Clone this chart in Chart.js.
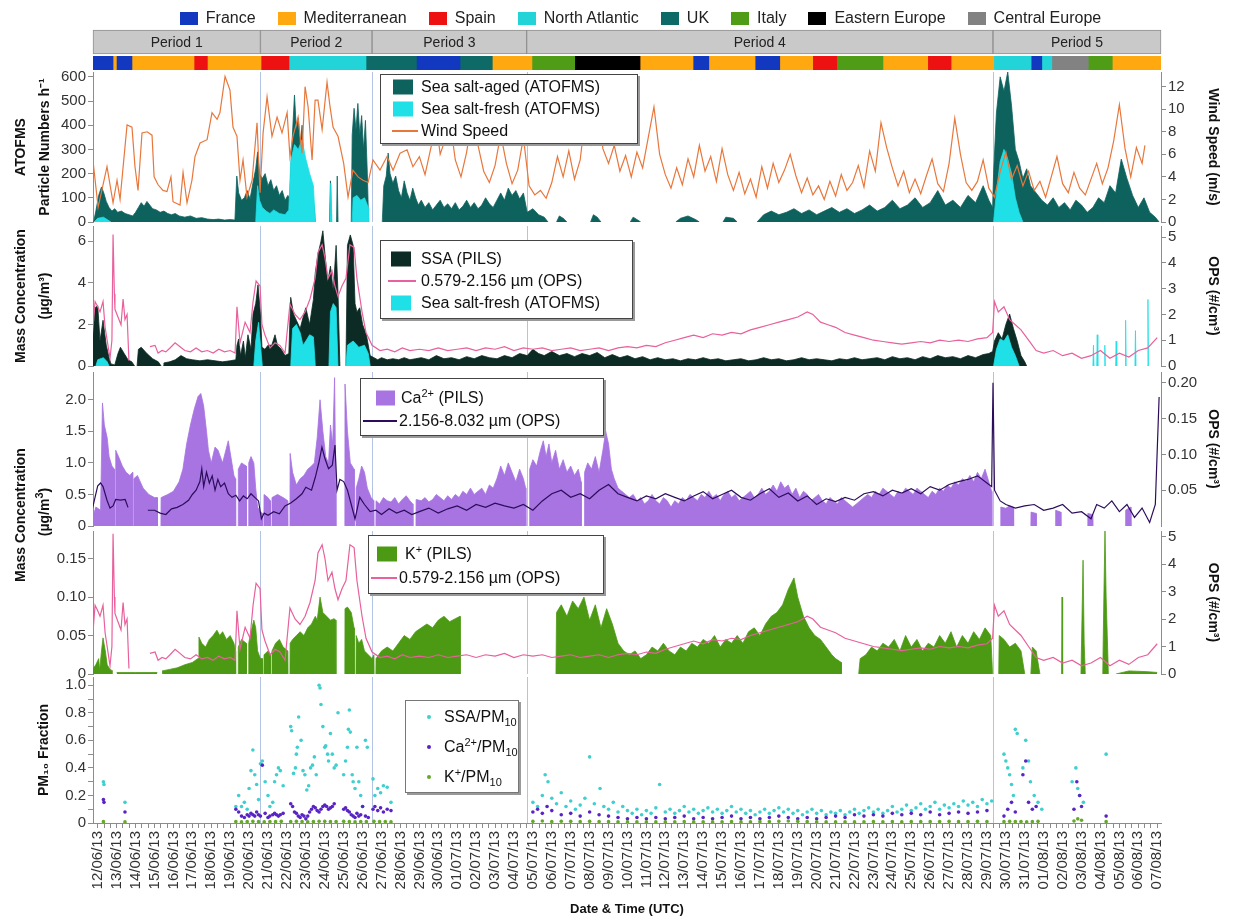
<!doctype html>
<html>
<head>
<meta charset="utf-8">
<title>Sea salt, Ca and K time series</title>
<script src="https://cdn.jsdelivr.net/npm/chart.js@4.4.1/dist/chart.umd.min.js"></script>
<style>
  body { margin: 0; background: #fff; font-family: "Liberation Sans", Arial, sans-serif; }
  #wrap { position: relative; width: 1237px; height: 921px; overflow: hidden; background: #fff; }
  canvas { position: absolute; left: 0; top: 0; }
  #originLegend { position: absolute; left: 22px; top: 9px; width: 1237px; display: flex; justify-content: center; font-size: 16px; color: #222; line-height: 18px; }
  #originLegend .it { display: flex; align-items: center; margin: 0 11px; white-space: nowrap; }
  #originLegend .bx { width: 18px; height: 13px; margin-right: 8px; }
  .lg { position: absolute; background: #fff; border: 1px solid #444; box-shadow: 2px 2px 0 #999; font-size: 16px; color: #111; }
  .lg .t { position: absolute; white-space: nowrap; line-height: 18px; transform: translateY(-50%); }
  .lg .sq { position: absolute; transform: translateY(-50%); }
  .lg .ln { position: absolute; height: 2px; transform: translateY(-50%); }
  .lg .dot { position: absolute; width: 4px; height: 4px; border-radius: 2px; transform: translate(-50%, -50%); }
  sup, sub { font-size: 11px; line-height: 0; }
  .vt { position: absolute; transform: translate(-50%, -50%) rotate(-90deg); white-space: nowrap; font-weight: bold; font-size: 14px; color: #111; }
</style>
</head>
<body>
<div id="wrap">
  <canvas id="periods" width="1237" height="921"></canvas>
  <canvas id="strip" width="1237" height="921"></canvas>
  <canvas id="p1" width="1237" height="921"></canvas>
  <canvas id="p2" width="1237" height="921"></canvas>
  <canvas id="p3" width="1237" height="921"></canvas>
  <canvas id="p4" width="1237" height="921"></canvas>
  <canvas id="p5" width="1237" height="921"></canvas>

  <div id="originLegend"></div>

  <div class="vt" style="left:20px; top:515px;">Mass Concentration</div>
  <div class="vt" style="left:44px; top:512px;">(µg/m<sup>3</sup>)</div>

  <div class="lg" style="left:380px; top:74px; width:256px; height:68px;">
    <div class="sq" style="left:12px; top:12px; width:20px; height:15px; background:#0e625e;"></div>
    <div class="t" style="left:40px; top:12px;">Sea salt-aged (ATOFMS)</div>
    <div class="sq" style="left:12px; top:34px; width:20px; height:15px; background:#1fe0e6;"></div>
    <div class="t" style="left:40px; top:34px;">Sea salt-fresh (ATOFMS)</div>
    <div class="ln" style="left:11px; top:56px; width:26px; background:#e8773c;"></div>
    <div class="t" style="left:40px; top:56px;">Wind Speed</div>
  </div>

  <div class="lg" style="left:380px; top:240px; width:251px; height:77px;">
    <div class="sq" style="left:10px; top:18px; width:20px; height:15px; background:#0c2b24;"></div>
    <div class="t" style="left:40px; top:18px;">SSA (PILS)</div>
    <div class="ln" style="left:7px; top:40px; width:28px; background:#e8609c;"></div>
    <div class="t" style="left:40px; top:40px;">0.579-2.156 µm (OPS)</div>
    <div class="sq" style="left:10px; top:62px; width:20px; height:15px; background:#1fe0e6;"></div>
    <div class="t" style="left:40px; top:62px;">Sea salt-fresh (ATOFMS)</div>
  </div>

  <div class="lg" style="left:360px; top:378px; width:242px; height:56px;">
    <div class="sq" style="left:15px; top:19px; width:19px; height:15px; background:#a774e2;"></div>
    <div class="t" style="left:40px; top:19px;">Ca<sup>2+</sup> (PILS)</div>
    <div class="ln" style="left:2px; top:42px; width:34px; background:#2c0d5c;"></div>
    <div class="t" style="left:38px; top:42px;">2.156-8.032 µm (OPS)</div>
  </div>

  <div class="lg" style="left:368px; top:535px; width:234px; height:57px;">
    <div class="sq" style="left:8px; top:18px; width:20px; height:15px; background:#4c9a14;"></div>
    <div class="t" style="left:36px; top:18px;">K<sup>+</sup> (PILS)</div>
    <div class="ln" style="left:2px; top:42px; width:26px; background:#e8609c;"></div>
    <div class="t" style="left:30px; top:42px;">0.579-2.156 µm (OPS)</div>
  </div>

  <div class="lg" style="left:405px; top:700px; width:112px; height:91px; border-color:#777;">
    <div class="dot" style="left:23px; top:16px; background:#3fcfcf;"></div>
    <div class="t" style="left:38px; top:16px;">SSA/PM<sub>10</sub></div>
    <div class="dot" style="left:23px; top:46px; background:#5a24c4;"></div>
    <div class="t" style="left:38px; top:46px;">Ca<sup>2+</sup>/PM<sub>10</sub></div>
    <div class="dot" style="left:23px; top:76px; background:#66a82a;"></div>
    <div class="t" style="left:38px; top:76px;">K<sup>+</sup>/PM<sub>10</sub></div>
  </div>
</div>

<script>
// time is in days after 12/06/13 00:00 (UTC)
var dateLabels = ['12/06/13','13/06/13','14/06/13','15/06/13','16/06/13','17/06/13','18/06/13','19/06/13','20/06/13','21/06/13',
  '22/06/13','23/06/13','24/06/13','25/06/13','26/06/13','27/06/13','28/06/13','29/06/13','30/06/13','01/07/13',
  '02/07/13','03/07/13','04/07/13','05/07/13','06/07/13','07/07/13','08/07/13','09/07/13','10/07/13','11/07/13',
  '12/07/13','13/07/13','14/07/13','15/07/13','16/07/13','17/07/13','18/07/13','19/07/13','20/07/13','21/07/13',
  '22/07/13','23/07/13','24/07/13','25/07/13','26/07/13','27/07/13','28/07/13','29/07/13','30/07/13','31/07/13',
  '01/08/13','02/08/13','03/08/13','04/08/13','05/08/13','06/08/13','07/08/13'];

var periodNames = ['Period 1', 'Period 2', 'Period 3', 'Period 4', 'Period 5'];
var periodSpans = [[-0.25, 8.6], [8.6, 14.5], [14.5, 22.67], [22.67, 47.32], [47.32, 56.2]];

// air mass origin, [start, end] in days
var franceSpans = [[-0.25, 0.81], [1.02, 1.81], [16.88, 19.15], [31.5, 32.3], [34.78, 36.05], [49.37, 49.9]];
var medSpans = [[0.81, 1.02], [1.81, 5.09], [5.83, 8.63], [20.89, 22.95], [28.7, 31.5], [32.3, 34.78], [36.05, 37.79], [41.54, 43.87], [45.14, 47.36], [53.66, 56.2]];
var spainSpans = [[5.09, 5.83], [8.63, 10.11], [37.79, 39.06], [43.87, 45.14]];
var atlanticSpans = [[10.11, 14.18], [47.36, 49.37], [49.9, 50.43]];
var ukSpans = [[14.18, 16.88], [19.15, 20.89]];
var italySpans = [[22.95, 25.21], [39.06, 41.54], [52.39, 53.66]];
var easternSpans = [[25.21, 28.7]];
var centralSpans = [[50.43, 52.39]];

// ATOFMS particle numbers per hour
var agedCounts = [[-0.22,0],[-0.1,45],[0.05,110],[0.2,145],[0.32,120],[0.45,85],[0.6,60],[0.75,45],[0.9,55],[1.05,40],[1.25,45],[1.45,35],[1.65,30],[1.85,25],[2.0,40],[2.15,60],[2.3,80],[2.45,65],[2.6,85],[2.75,70],[2.9,55],[3.1,50],[3.3,40],[3.5,45],[3.7,35],[3.9,30],[4.1,35],[4.3,25],[4.6,20],[4.9,25],[5.2,15],[5.5,18],[5.8,12],[6.1,10],[6.4,12],[6.7,8],[7.0,10],[7.25,8],[7.35,190],[7.45,120],[7.6,90],[7.75,100],[7.9,130],[8.05,95],[8.2,160],[8.35,220],[8.45,290],[8.55,200],[8.7,180],[8.85,200],[9.0,150],[9.15,175],[9.3,130],[9.45,150],[9.6,110],[9.75,130],[9.9,90],[10.05,110],[10.15,100],[10.25,300],[10.4,525],[10.5,380],[10.6,430],[10.7,300],[10.8,400],[10.9,250],[11.05,200],[11.2,140],[11.35,100],[11.45,60],[11.5,0],[11.52,null],
  [12.23,null],[12.25,0],[12.3,170],[12.36,0],[12.38,null],[12.6,null],[12.62,0],[12.66,190],[12.7,0],[12.72,null],
  [13.38,null],[13.4,0],[13.45,360],[13.55,470],[13.65,380],[13.75,490],[13.85,360],[13.95,440],[14.05,300],[14.15,420],[14.25,200],[14.32,0],[14.34,null],
  [15.02,null],[15.04,0],[15.12,150],[15.25,190],[15.35,285],[15.45,200],[15.6,160],[15.75,190],[15.9,130],[16.05,100],[16.2,170],[16.35,120],[16.5,90],[16.65,140],[16.8,100],[16.95,70],[17.1,90],[17.3,60],[17.5,80],[17.7,50],[17.9,70],[18.1,90],[18.3,60],[18.5,75],[18.7,55],[18.9,80],[19.1,50],[19.3,65],[19.5,90],[19.7,60],[19.9,80],[20.1,55],[20.3,70],[20.5,100],[20.7,75],[20.9,60],[21.1,90],[21.3,120],[21.5,90],[21.7,140],[21.9,110],[22.1,130],[22.3,95],[22.5,120],[22.7,40],[23.0,55],[23.3,30],[23.6,20],[23.8,0],[23.82,null],
  [24.22,null],[24.25,0],[24.4,25],[24.6,15],[24.8,0],[24.82,null],[26.02,null],[26.05,0],[26.2,30],[26.4,20],[26.6,0],[26.62,null],[28.12,null],[28.15,0],[28.3,20],[28.5,10],[28.7,0],[28.72,null],
  [30.52,null],[30.55,0],[30.8,15],[31.2,25],[31.6,10],[31.8,0],[31.82,null],[33.02,null],[33.05,0],[33.2,20],[33.6,15],[33.8,0],[33.82,null],
  [34.82,null],[34.85,0],[35.2,30],[35.6,45],[36.0,30],[36.4,40],[36.8,55],[37.2,35],[37.6,50],[38.0,30],[38.4,45],[38.8,60],[39.2,40],[39.6,55],[40.0,35],[40.4,50],[40.8,70],[41.2,45],[41.6,60],[42.0,90],[42.4,55],[42.8,70],[43.2,100],[43.6,60],[44.0,80],[44.4,130],[44.8,70],[45.2,90],[45.6,60],[46.0,110],[46.4,80],[46.8,150],[47.1,90],[47.3,60],
  [47.35,200],[47.5,450],[47.7,600],[47.9,540],[48.1,620],[48.3,480],[48.5,300],[48.7,250],[48.9,180],[49.1,220],[49.3,150],[49.6,120],[49.9,90],[50.2,70],[50.5,100],[50.8,60],[51.1,80],[51.4,50],[51.7,90],[52.0,70],[52.3,40],[52.6,60],[52.9,100],[53.2,80],[53.5,150],[53.8,120],[54.1,260],[54.4,180],[54.7,110],[55.0,60],[55.3,100],[55.6,40],[55.9,20],[56.1,0]];

var freshCounts = [[-0.2,0],[0.0,15],[0.3,20],[0.5,10],[0.7,0],[0.72,null],
  [8.33,null],[8.35,0],[8.45,150],[8.55,90],[8.7,60],[8.9,45],[9.1,35],[9.3,50],[9.6,35],[9.9,30],[10.1,50],[10.2,250],[10.4,320],[10.6,300],[10.8,340],[11.0,260],[11.2,200],[11.4,150],[11.5,0],[11.52,null],
  [12.25,null],[12.27,0],[12.32,160],[12.38,0],[12.4,null],
  [13.43,null],[13.45,0],[13.5,100],[13.7,110],[13.9,90],[14.1,100],[14.3,60],[14.32,0],[14.34,null],
  [47.33,null],[47.35,0],[47.5,120],[47.7,250],[47.9,300],[48.1,260],[48.3,200],[48.5,100],[48.7,40],[48.9,0]];

var windSpeed = [[-0.3,6.2],[0.02,1.3],[0.49,4.9],[0.81,1.7],[1.02,3.7],[1.18,2.0],[1.55,8.6],[1.81,8.4],[1.97,4.9],[2.13,2.8],[2.34,7.9],[2.61,8.0],[2.87,7.7],[2.98,4.0],[3.19,3.3],[3.45,2.8],[3.66,2.7],[3.87,4.0],[3.98,1.8],[4.35,1.5],[4.51,4.4],[4.72,1.7],[4.98,3.7],[5.14,5.8],[5.41,7.0],[5.78,7.3],[6.04,9.7],[6.31,9.1],[6.46,9.7],[6.73,12.9],[6.99,11.7],[7.15,8.4],[7.36,7.6],[7.52,3.7],[7.68,5.5],[7.89,2.2],[8.16,3.7],[8.42,8.8],[8.58,2.6],[8.74,7.9],[8.95,11.1],[9.21,7.6],[9.48,9.3],[9.74,7.9],[10.01,9.7],[10.16,5.8],[10.32,7.6],[10.59,9.3],[10.8,6.1],[10.96,12.0],[11.12,10.2],[11.33,5.5],[11.49,10.8],[11.64,10.8],[11.86,8.2],[12.12,12.4],[12.28,10.2],[12.44,8.4],[12.7,7.6],[13.0,5.2],[13.23,2.2],[13.49,4.6],[13.76,4.0],[14.02,3.7],[14.29,3.5],[14.55,5.5],[14.92,4.6],[15.29,5.8],[15.61,4.6],[15.98,6.1],[16.35,6.4],[16.66,4.9],
  [17.0,5.8],[17.3,4.2],[17.6,6.5],[17.9,8.8],[18.1,6.0],[18.4,7.5],[18.6,9.2],[18.9,5.5],[19.2,4.0],[19.5,6.2],[19.8,9.4],[20.1,6.8],[20.4,4.5],[20.7,3.5],[21.0,5.0],[21.3,7.8],[21.6,5.2],[21.9,3.4],[22.2,4.6],[22.5,7.5],[22.8,3.2],[23.1,2.4],[23.4,2.8],[23.7,2.1],[24.0,3.5],[24.3,5.8],[24.6,4.0],[24.9,6.3],[25.2,3.8],[25.5,5.5],[25.8,9.8],[26.1,7.0],[26.4,10.6],[26.7,6.5],[27.0,5.2],[27.3,6.8],[27.6,4.5],[27.9,5.9],[28.2,4.0],[28.5,6.2],[28.8,4.8],[29.1,7.5],[29.4,10.2],[29.7,6.0],[30.0,4.2],[30.3,3.0],[30.6,4.8],[30.9,3.3],[31.2,5.6],[31.5,4.0],[31.8,6.8],[32.1,4.5],[32.4,5.8],[32.7,3.6],[33.0,6.5],[33.3,4.2],[33.6,2.8],[33.9,4.4],[34.2,2.5],[34.5,3.8],[34.8,2.2],[35.1,4.9],[35.4,3.0],[35.7,5.2],[36.0,3.5],[36.3,4.6],[36.6,6.0],[36.9,4.1],[37.2,2.6],[37.5,3.9],[37.8,2.4],[38.1,3.2],[38.4,2.0],[38.7,3.6],[39.0,2.3],[39.3,4.2],[39.6,2.8],[39.9,3.5],[40.2,5.0],[40.5,3.1],[40.8,6.3],[41.1,4.5],[41.4,8.8],[41.7,6.6],[42.0,4.8],[42.3,3.2],[42.6,4.5],[42.9,2.6],[43.2,3.8],[43.5,2.5],[43.8,4.1],[44.1,5.6],[44.4,3.4],[44.7,2.7],[45.0,5.2],[45.3,9.2],[45.6,6.0],[45.9,3.5],[46.2,2.8],[46.5,3.6],[46.8,5.5],[47.1,3.0],[47.4,2.2],[47.7,4.5],[48.0,6.2],[48.3,3.8],[48.6,5.0],[48.9,3.2],[49.2,4.5],[49.5,2.8],[49.8,3.6],[50.1,2.2],[50.4,4.0],[50.7,5.8],[51.0,3.4],[51.3,2.6],[51.6,4.4],[51.9,3.0],[52.2,2.4],[52.5,3.8],[52.8,5.2],[53.1,3.4],[53.4,4.8],[53.7,7.2],[54.0,10.4],[54.3,6.5],[54.6,4.0],[54.9,6.6],[55.2,5.2],[55.35,6.8]];

// PILS mass concentrations (ug/m3)
var ssaMass = [[-0.3,0.8],[-0.14,2.8],[0.0,2.9],[0.12,1.2],[0.28,2.2],[0.45,1.0],[0.6,0.4],[0.7,0.1],[0.9,0.05],[1.07,0.6],[1.2,0.9],[1.4,0.6],[1.6,0.3],[1.8,0.2],[1.95,0],[1.97,null],[2.06,null],[2.08,0],[2.15,0.8],[2.3,0.9],[2.6,0.6],[2.9,0.35],[3.2,0.2],[3.35,0],[3.37,null],[3.43,null],[3.45,0],[3.5,0.15],[3.8,0.2],[4.1,0.3],[4.4,0.5],[4.7,0.35],[5.0,0.3],[5.4,0.25],[5.8,0.3],[6.2,0.25],[6.6,0.2],[7.0,0.25],[7.3,0.3],[7.36,1.0],[7.45,1.3],[7.55,0.5],[7.7,1.2],[7.8,0.4],[7.94,1.5],[8.1,0.8],[8.21,2.5],[8.35,3.0],[8.47,3.9],[8.6,2.5],[8.68,0.9],[8.84,0.8],[9.0,1.0],[9.2,1.0],[9.37,1.5],[9.5,1.0],[9.7,0.8],[9.9,0.5],[10.1,0.6],[10.2,3.3],[10.35,2.5],[10.5,2.2],[10.7,1.8],[10.9,2.5],[11.0,2.8],[11.2,2.0],[11.4,3.2],[11.5,4.5],[11.65,5.4],[11.8,6.0],[11.9,6.5],[12.0,5.5],[12.15,4.0],[12.3,4.8],[12.45,3.6],[12.6,5.8],[12.7,3.5],[12.8,0],[12.82,null],
  [13.1,null],[13.12,0],[13.2,5.8],[13.35,6.3],[13.5,5.8],[13.6,3.0],[13.7,2.6],[13.85,2.8],[14.0,2.0],[14.2,1.5],[14.4,0.5],[14.6,0.4],[14.8,0.3],[15.0,0.4],[15.3,0.3],[15.6,0.35],[15.9,0.3],[16.2,0.4],[16.5,0.3],[16.8,0.35],
  [17.1,0.4],[17.5,0.3],[17.9,0.5],[18.3,0.35],[18.7,0.4],[19.1,0.3],[19.5,0.45],[19.9,0.35],[20.3,0.5],[20.7,0.4],[21.1,0.35],[21.5,0.5],[21.9,0.4],[22.3,0.6],[22.7,0.5],[23.0,0.8],[23.3,0.6],[23.6,0.5],[24.0,0.7],[24.4,0.5],[24.8,0.6],[25.2,0.45],[25.6,0.6],[26.0,0.5],[26.4,0.65],[26.8,0.4],[27.2,0.55],[27.6,0.4],[28.0,0.5],[28.4,0.35],[28.8,0.45],[29.2,0.3],[29.6,0.4],[30.0,0.3],[30.4,0.35],[30.8,0.25],[31.2,0.35],[31.6,0.3],[32.0,0.4],[32.4,0.3],[32.8,0.35],[33.2,0.25],[33.6,0.3],[34.0,0.35],[34.4,0.25],[34.8,0.3],[35.2,0.4],[35.6,0.3],[36.0,0.35],[36.4,0.25],[36.8,0.3],[37.2,0.4],[37.6,0.3],[38.0,0.35],[38.4,0.3],[38.8,0.25],[39.2,0.35],[39.6,0.3],[40.0,0.4],[40.4,0.3],[40.8,0.35],[41.2,0.4],[41.6,0.3],[42.0,0.45],[42.4,0.35],[42.8,0.4],[43.2,0.3],[43.6,0.45],[44.0,0.35],[44.4,0.5],[44.8,0.4],[45.2,0.45],[45.6,0.35],[46.0,0.5],[46.4,0.4],[46.8,0.55],[47.1,0.6],[47.3,0.7],
  [47.4,1.2],[47.6,1.6],[47.8,1.3],[48.0,2.0],[48.2,2.5],[48.4,1.8],[48.6,1.2],[48.8,0.5],[49.0,0.2],[49.1,0]];

var freshMass = [[-0.1,0],[0.0,0.3],[0.3,0.4],[0.5,0.2],[0.6,0],[0.62,null],
  [8.23,null],[8.25,0],[8.35,1.2],[8.5,2.1],[8.65,0.5],[8.7,0],[8.72,null],
  [10.18,null],[10.2,0],[10.3,1.8],[10.5,2.0],[10.7,1.6],[10.85,1.0],[11.0,1.2],[11.2,1.5],[11.4,1.4],[11.5,0],[11.52,null],
  [12.2,null],[12.22,0],[12.3,2.6],[12.45,3.0],[12.6,2.8],[12.7,0],[12.72,null],
  [13.1,null],[13.12,0],[13.2,1.0],[13.5,1.2],[13.8,0.9],[14.1,1.0],[14.3,0.6],[14.4,0],[14.42,null],
  [47.33,null],[47.35,0],[47.5,0.8],[47.7,1.3],[47.9,1.2],[48.1,1.5],[48.3,0.9],[48.5,0.5],[48.7,0],[48.72,null],
  [52.58,null],[52.6,0],[52.63,1.0],[52.66,0],[52.68,null],[52.78,null],[52.8,0],[52.83,1.5],[52.86,0],[52.88,null],
  [53.18,null],[53.2,0],[53.23,1.0],[53.26,0],[53.28,null],[53.78,null],[53.8,0],[53.83,1.2],[53.86,0],[53.88,null],
  [54.28,null],[54.3,0],[54.33,2.2],[54.36,0],[54.38,null],[54.8,null],[54.82,0],[54.85,1.7],[54.88,0],[54.9,null],
  [55.46,null],[55.48,0],[55.51,3.2],[55.54,0]];

var caMass = [[-0.25,0.15],[-0.1,0.3],[0.15,0.25],[0.25,1.95],[0.35,1.6],[0.5,1.4],[0.6,1.1],[0.75,0.95],[0.88,0.9],[0.89,0],[0.9,null],
  [0.93,null],[0.94,0],[0.95,1.2],[1.1,1.1],[1.3,0.95],[1.5,0.85],[1.7,0.8],[1.84,0.85],[1.85,0],[1.86,null],
  [1.89,null],[1.9,0],[1.91,0.75],[2.1,0.8],[2.4,0.6],[2.7,0.5],[3.0,0.45],[3.15,0.45],[3.16,0],[3.17,null],
  [3.33,null],[3.34,0],[3.35,0.45],[3.7,0.5],[4.0,0.55],[4.3,0.7],[4.5,0.9],[4.7,1.3],[4.9,1.6],[5.1,1.85],[5.3,2.05],[5.45,2.1],[5.6,1.9],[5.75,1.5],[5.85,1.2],[6.0,1.0],[6.2,1.25],[6.36,1.2],[6.6,1.0],[6.9,1.35],[7.2,0.8],[7.28,0.75],[7.29,0],[7.3,null],
  [7.41,null],[7.42,0],[7.43,0.9],[7.6,1.0],[7.85,0.95],[7.86,0],[7.87,null],
  [7.96,null],[7.97,0],[7.98,1.0],[8.1,1.1],[8.25,1.0],[8.35,0.6],[8.45,0.3],[8.55,0.25],[8.7,0.2],[8.71,0],[8.72,null],
  [8.77,null],[8.78,0],[8.79,0.5],[9.0,0.45],[9.12,0.4],[9.13,0],[9.14,null],
  [9.19,null],[9.2,0],[9.21,0.45],[9.5,0.5],[9.8,0.45],[10.05,0.4],[10.06,0],[10.07,null],
  [10.15,null],[10.16,0],[10.17,1.15],[10.3,0.85],[10.5,0.65],[10.7,0.75],[10.9,0.8],[11.1,0.9],[11.3,0.95],[11.45,1.0],[11.6,1.4],[11.75,2.0],[11.9,1.5],[12.05,1.1],[12.2,1.0],[12.3,1.6],[12.42,1.3],[12.52,2.35],[12.58,0.7],[12.59,0],[12.6,null],
  [13.05,null],[13.06,0],[13.07,2.25],[13.2,1.5],[13.35,1.0],[13.55,0.9],[13.56,0],[13.57,null],
  [13.64,null],[13.65,0],[13.66,0.6],[13.8,0.75],[13.95,0.95],[14.1,0.85],[14.25,0.6],[14.45,0.45],[14.6,0.4],[14.61,0],[14.62,null],
  [14.69,null],[14.7,0],[14.71,0.4],[14.9,0.35],[15.1,0.45],[15.3,0.4],[15.5,0.38],[15.7,0.45],[15.9,0.35],[16.1,0.42],[16.3,0.48],[16.5,0.4],[16.65,0.35],[16.66,0],[16.67,null],
  [16.81,null],[16.82,0],[16.83,0.42],[17.1,0.4],[17.3,0.45],[17.5,0.38],[17.7,0.42],[17.9,0.5],[18.1,0.45],[18.3,0.4],[18.5,0.48],[18.7,0.42],[18.9,0.5],[19.1,0.45],[19.3,0.55],[19.5,0.5],[19.7,0.6],[19.9,0.5],[20.1,0.55],[20.3,0.6],[20.5,0.5],[20.7,0.65],[20.9,0.6],[21.1,0.75],[21.3,0.95],[21.5,0.8],[21.7,1.0],[21.9,0.85],[22.1,0.7],[22.3,0.9],[22.5,0.75],[22.62,0.6],[22.63,0],[22.64,null],
  [22.81,null],[22.82,0],[22.83,0.9],[23.0,1.05],[23.2,0.95],[23.4,1.2],[23.55,1.35],[23.7,1.1],[23.85,1.3],[24.0,1.0],[24.2,1.2],[24.4,0.9],[24.6,1.05],[24.8,0.85],[25.0,0.95],[25.2,0.8],[25.4,0.9],[25.55,0.7],[25.56,0],[25.57,null],
  [25.71,null],[25.72,0],[25.73,0.85],[25.9,1.0],[26.1,0.9],[26.3,1.1],[26.5,0.85],[26.7,1.2],[26.85,1.5],[27.0,1.3],[27.15,0.9],[27.3,0.75],[27.5,0.6],[27.7,0.55],[27.9,0.5],[28.1,0.45],[28.3,0.5],[28.5,0.4],[28.7,0.45],[28.9,0.35],[29.1,0.4],[29.3,0.5],[29.5,0.4],[29.7,0.35],[29.9,0.45],[30.1,0.4],[30.3,0.3],[30.5,0.4],[30.7,0.35],[30.9,0.45],[31.1,0.4],[31.3,0.5],[31.5,0.45],[31.7,0.4],[31.9,0.5],[32.1,0.45],[32.3,0.55],[32.5,0.45],[32.7,0.5],[32.9,0.4],[33.1,0.5],[33.3,0.55],[33.5,0.45],[33.7,0.5],[33.9,0.4],[34.1,0.45],[34.3,0.5],[34.5,0.55],[34.7,0.45],[34.9,0.5],[35.1,0.6],[35.3,0.5],[35.5,0.55],[35.7,0.65],[35.9,0.55],[36.1,0.7],[36.3,0.6],[36.5,0.65],[36.7,0.5],[36.9,0.6],[37.1,0.45],[37.3,0.55],[37.5,0.5],[37.7,0.4],[37.9,0.45],[38.1,0.5],[38.3,0.4],[38.5,0.35],[38.7,0.45],[38.9,0.4],[39.1,0.35],[39.3,0.45],[39.5,0.4],[39.7,0.35],[39.9,0.3],[40.1,0.35],[40.3,0.4],[40.5,0.45],[40.7,0.5],[40.9,0.45],[41.1,0.55],[41.3,0.5],[41.5,0.6],[41.7,0.55],[41.9,0.5],[42.1,0.45],[42.3,0.55],[42.5,0.5],[42.7,0.6],[42.9,0.55],[43.1,0.5],[43.3,0.6],[43.5,0.55],[43.7,0.5],[43.9,0.45],[44.1,0.55],[44.3,0.5],[44.5,0.6],[44.7,0.55],[44.9,0.65],[45.1,0.6],[45.3,0.7],[45.5,0.65],[45.7,0.75],[45.9,0.7],[46.1,0.8],[46.3,0.7],[46.5,0.85],[46.7,0.75],[46.9,0.9],[47.1,0.7],[47.25,0.55],[47.26,0],[47.27,null],
  [47.71,null],[47.72,0],[47.73,0.3],[48.0,0.28],[48.2,0.32],[48.4,0.3],[48.41,0],[48.42,null],
  [49.31,null],[49.32,0],[49.33,0.22],[49.6,0.2],[49.61,0],[49.62,null],
  [50.61,null],[50.62,0],[50.63,0.25],[50.9,0.22],[50.91,0],[50.92,null],
  [52.31,null],[52.32,0],[52.33,0.2],[52.6,0.18],[52.61,0],[52.62,null],
  [54.31,null],[54.32,0],[54.33,0.25],[54.6,0.3],[54.61,0]];

var kMass = [[-0.3,0.005],[-0.1,0.012],[0.05,0.02],[0.1,0.005],[0.2,0.03],[0.28,0.047],[0.4,0.03],[0.5,0.012],[0.65,0.006],[0.8,0.004],[0.82,null],
  [0.98,null],[1.0,0.002],[1.5,0.002],[2.0,0.002],[2.5,0.002],[3.15,0.002],[3.17,null],
  [3.38,null],[3.4,0.004],[3.8,0.006],[4.2,0.008],[4.6,0.012],[5.0,0.015],[5.3,0.02],[5.35,0.048],[5.5,0.04],[5.7,0.035],[5.9,0.045],[6.1,0.05],[6.3,0.057],[6.45,0.05],[6.6,0.055],[6.8,0.045],[7.0,0.05],[7.2,0.04],[7.28,0.03],[7.29,0],[7.3,null],
  [7.41,null],[7.42,0],[7.43,0.035],[7.6,0.045],[7.85,0.04],[7.86,0],[7.87,null],
  [7.96,null],[7.97,0],[7.98,0.04],[8.1,0.055],[8.25,0.07],[8.35,0.06],[8.45,0.03],[8.6,0.02],[8.7,0.02],[8.71,0],[8.72,null],
  [8.77,null],[8.78,0],[8.79,0.025],[9.0,0.03],[9.12,0.025],[9.13,0],[9.14,null],
  [9.19,null],[9.2,0],[9.21,0.03],[9.4,0.04],[9.6,0.045],[9.8,0.035],[10.05,0.03],[10.06,0],[10.07,null],
  [10.15,null],[10.16,0],[10.17,0.04],[10.3,0.045],[10.5,0.05],[10.7,0.055],[10.9,0.05],[11.1,0.06],[11.3,0.065],[11.5,0.075],[11.6,0.07],[11.75,0.1],[11.9,0.08],[12.1,0.075],[12.3,0.07],[12.5,0.072],[12.58,0.07],[12.59,0],[12.6,null],
  [13.05,null],[13.06,0],[13.07,0.085],[13.2,0.087],[13.4,0.08],[13.55,0.06],[13.56,0],[13.57,null],
  [13.64,null],[13.65,0],[13.66,0.05],[13.8,0.04],[13.95,0.045],[14.1,0.03],[14.3,0.025],[14.5,0.02],[14.6,0.025],[14.61,0],[14.62,null],
  [14.69,null],[14.7,0],[14.71,0.02],[15.0,0.03],[15.3,0.035],[15.6,0.03],[15.9,0.04],[16.2,0.05],[16.5,0.045],[16.8,0.055],[17.1,0.06],[17.4,0.065],[17.7,0.06],[18.0,0.07],[18.3,0.075],[18.6,0.068],[18.9,0.072],[19.15,0.075],[19.16,0],[19.17,null],
  [24.2,null],[24.22,0],[24.25,0.08],[24.5,0.09],[24.8,0.075],[25.1,0.095],[25.4,0.085],[25.7,0.1],[26.0,0.07],[26.3,0.09],[26.6,0.06],[26.9,0.085],[27.2,0.065],[27.5,0.04],[27.8,0.03],[28.1,0.025],[28.4,0.03],[28.7,0.02],[29.0,0.025],[29.3,0.035],[29.6,0.03],[29.9,0.04],[30.2,0.03],[30.5,0.025],[30.8,0.035],[31.1,0.03],[31.4,0.04],[31.7,0.035],[32.0,0.045],[32.3,0.04],[32.6,0.05],[32.9,0.035],[33.2,0.045],[33.5,0.04],[33.8,0.05],[34.1,0.04],[34.4,0.055],[34.7,0.06],[35.0,0.05],[35.3,0.065],[35.6,0.075],[35.9,0.08],[36.2,0.09],[36.5,0.11],[36.8,0.125],[37.0,0.1],[37.3,0.075],[37.6,0.06],[37.9,0.05],[38.2,0.045],[38.5,0.035],[38.8,0.025],[39.0,0.02],[39.3,0.015],[39.31,0],[39.32,null],
  [40.2,null],[40.22,0],[40.3,0.02],[40.6,0.025],[40.9,0.035],[41.2,0.03],[41.5,0.04],[41.8,0.035],[42.1,0.045],[42.4,0.03],[42.7,0.05],[43.0,0.035],[43.3,0.045],[43.6,0.03],[43.9,0.04],[44.2,0.035],[44.5,0.05],[44.8,0.04],[45.1,0.055],[45.4,0.035],[45.7,0.05],[46.0,0.04],[46.3,0.055],[46.6,0.045],[46.9,0.06],[47.2,0.05],[47.3,0],[47.32,null],
  [47.6,null],[47.62,0],[47.65,0.05],[47.9,0.045],[48.2,0.035],[48.5,0.04],[48.8,0.03],[49.0,0],[49.02,null],
  [49.3,null],[49.32,0],[49.4,0.035],[49.6,0.03],[49.8,0],[49.82,null],
  [50.92,null],[50.94,0],[50.97,0.1],[51.0,0],[51.02,null],
  [51.95,null],[51.97,0],[52.0,0.04],[52.08,0.148],[52.14,0.04],[52.2,0],[52.22,null],
  [53.1,null],[53.12,0],[53.18,0.1],[53.24,0.187],[53.3,0.1],[53.36,0.05],[53.42,0],[53.44,null],
  [53.8,null],[53.82,0],[54.5,0.004],[55.5,0.003],[56.0,0.002]];

// OPS number concentrations (#/cm3)
var opsFine = [[-0.3,1.1],[-0.14,2.5],[0.0,2.3],[0.12,2.1],[0.28,2.5],[0.39,1.5],[0.65,0.3],[0.75,1.0],[0.81,5.1],[0.88,2.8],[0.91,2.2],[1.07,1.9],[1.23,1.6],[1.34,2.6],[1.44,1.8],[1.55,2.0],[1.65,0.2],[1.7,null],
  [2.7,null],[2.76,0.75],[3.03,0.8],[3.19,0.5],[3.4,0.6],[3.6,0.55],[3.82,0.7],[4.09,0.9],[4.35,0.75],[4.6,0.6],[4.9,0.55],[5.2,0.7],[5.5,0.55],[5.8,0.6],[6.1,0.5],[6.4,0.65],[6.7,0.55],[7.0,0.6],[7.26,0.5],[7.36,2.3],[7.52,0.9],[7.79,1.7],[8.05,1.3],[8.21,2.5],[8.37,3.3],[8.58,3.1],[8.68,1.6],[8.84,1.2],[9.11,0.7],[9.37,0.9],[9.63,0.8],[9.9,0.5],[10.16,2.4],[10.43,2.0],[10.69,1.8],[10.96,2.1],[11.22,2.6],[11.49,3.4],[11.64,4.4],[11.86,4.7],[12.01,4.2],[12.17,3.4],[12.38,3.7],[12.54,3.1],[12.7,2.7],[12.91,3.1],[13.12,3.4],[13.33,4.7],[13.55,4.6],[13.7,3.4],[13.97,2.1],[14.18,1.3],[14.5,0.8],[14.92,0.6],[15.3,0.65],[15.7,0.55],[16.1,0.7],[16.5,0.6],
  [17.0,0.65],[17.5,0.6],[18.0,0.7],[18.5,0.6],[19.0,0.65],[19.5,0.7],[20.0,0.6],[20.5,0.7],[21.0,0.65],[21.5,0.75],[22.0,0.6],[22.5,0.7],[23.0,0.65],[23.5,0.7],[24.0,0.6],[24.5,0.65],[25.0,0.7],[25.5,0.6],[26.0,0.65],[26.5,0.7],[27.0,0.6],[27.5,0.7],[28.0,0.75],[28.5,0.7],[29.0,0.8],[29.5,0.75],[30.0,0.9],[30.5,1.0],[31.0,1.1],[31.5,1.2],[32.0,1.1],[32.5,1.25],[33.0,1.2],[33.5,1.3],[34.0,1.25],[34.5,1.4],[35.0,1.5],[35.5,1.6],[36.0,1.7],[36.5,1.8],[37.0,1.9],[37.5,2.1],[37.8,2.0],[38.2,1.7],[38.6,1.6],[39.0,1.5],[39.5,1.3],[40.0,1.2],[40.5,1.1],[41.0,1.0],[41.5,0.95],[42.0,0.9],[42.5,0.85],[43.0,0.9],[43.5,0.95],[44.0,0.9],[44.5,1.0],[45.0,0.95],[45.5,1.0],[46.0,0.95],[46.5,1.05],[47.0,1.1],[47.3,1.3],[47.4,2.5],[47.6,2.1],[47.9,2.3],[48.2,1.8],[48.5,1.6],[48.8,1.4],[49.2,1.0],[49.6,0.6],[50.0,0.5],[50.5,0.6],[51.0,0.4],[51.5,0.5],[52.0,0.3],[52.5,0.4],[53.0,0.6],[53.5,0.3],[54.0,0.5],[54.5,0.35],[55.0,0.6],[55.5,0.7],[56.0,1.1]];

var opsCoarse = [[-0.3,0.022],[-0.1,0.045],[0.0,0.056],[0.15,0.06],[0.28,0.055],[0.49,0.036],[0.65,0.025],[0.81,0.028],[0.95,0.037],[1.2,0.036],[1.45,0.037],[1.6,0.026],[1.7,null],
  [2.6,null],[2.65,0.022],[3.0,0.022],[3.3,0.018],[3.6,0.016],[3.9,0.024],[4.2,0.026],[4.5,0.03],[4.8,0.036],[5.0,0.044],[5.2,0.05],[5.4,0.062],[5.5,0.08],[5.6,0.055],[5.75,0.075],[5.9,0.06],[6.05,0.07],[6.2,0.05],[6.35,0.065],[6.5,0.055],[6.7,0.06],[6.9,0.045],[7.1,0.04],[7.3,0.043],[7.5,0.035],[7.7,0.042],[7.9,0.038],[8.1,0.045],[8.3,0.04],[8.5,0.035],[8.65,0.01],[8.8,0.018],[9.0,0.015],[9.3,0.02],[9.6,0.017],[9.9,0.028],[10.2,0.032],[10.5,0.038],[10.8,0.045],[11.0,0.054],[11.3,0.05],[11.5,0.068],[11.7,0.09],[11.85,0.11],[12.0,0.095],[12.2,0.08],[12.4,0.085],[12.54,0.113],[12.65,0.05],[12.8,0.065],[13.0,0.062],[13.2,0.05],[13.4,0.03],[13.6,0.01],[13.85,0.04],[14.1,0.03],[14.4,0.02],[14.7,0.022],[15.0,0.016],[15.4,0.024],[15.8,0.018],[16.2,0.022],[16.6,0.016],
  [17.0,0.02],[17.5,0.025],[18.0,0.018],[18.5,0.024],[19.0,0.028],[19.5,0.022],[20.0,0.03],[20.5,0.026],[21.0,0.032],[21.5,0.028],[22.0,0.025],[22.5,0.03],[23.0,0.022],[23.5,0.035],[24.0,0.045],[24.5,0.05],[25.0,0.04],[25.5,0.045],[26.0,0.038],[26.5,0.05],[27.0,0.058],[27.5,0.045],[28.0,0.04],[28.5,0.035],[29.0,0.042],[29.5,0.038],[30.0,0.045],[30.5,0.04],[31.0,0.035],[31.5,0.042],[32.0,0.048],[32.5,0.038],[33.0,0.044],[33.5,0.05],[34.0,0.04],[34.5,0.036],[35.0,0.045],[35.5,0.052],[36.0,0.04],[36.5,0.046],[37.0,0.035],[37.5,0.042],[38.0,0.03],[38.5,0.038],[39.0,0.034],[39.5,0.04],[40.0,0.036],[40.5,0.045],[41.0,0.048],[41.5,0.042],[42.0,0.05],[42.5,0.046],[43.0,0.052],[43.5,0.045],[44.0,0.055],[44.5,0.05],[45.0,0.058],[45.5,0.062],[46.0,0.065],[46.5,0.07],[47.0,0.06],[47.25,0.055],[47.32,0.2],[47.4,0.05],[47.7,0.035],[48.0,0.03],[48.5,0.025],[49.0,0.028],[49.5,0.03],[50.0,0.022],[50.5,0.025],[51.0,0.03],[51.5,0.018],[52.0,0.02],[52.5,0.01],[52.8,0.03],[53.2,0.025],[53.6,0.035],[54.0,0.02],[54.4,0.03],[54.8,0.012],[55.2,0.025],[55.6,0.005],[55.9,0.03],[56.1,0.18]];

// fractions of PM10
var ssaFrac = [[0.3,0.3],[0.33,0.28],[1.44,0.15],
  [7.3,0.12],[7.45,0.2],[7.6,0.12],[7.75,0.15],[7.9,0.1],[8.0,0.25],[8.1,0.38],[8.2,0.53],[8.3,0.35],[8.4,0.28],[8.5,0.17],[8.6,0.43],[8.7,0.45],[8.85,0.3],[9.0,0.2],[9.1,0.12],[9.25,0.15],[9.35,0.3],[9.45,0.35],[9.55,0.4],[9.65,0.38],[9.8,0.27],
  [10.2,0.7],[10.25,0.67],[10.35,0.36],[10.45,0.4],[10.5,0.5],[10.55,0.55],[10.62,0.77],[10.75,0.6],[10.85,0.38],[10.95,0.35],[11.05,0.24],[11.15,0.27],[11.25,0.4],[11.35,0.42],[11.45,0.48],[11.55,0.35],[11.7,1.0],[11.75,0.98],[11.8,0.86],[11.9,0.7],[12.0,0.55],[12.05,0.56],[12.15,0.5],[12.2,0.45],[12.3,0.65],[12.4,0.5],[12.5,0.4],[12.6,0.42],[12.7,0.8],
  [13.0,0.35],[13.1,0.45],[13.2,0.55],[13.25,0.68],[13.3,0.82],[13.35,0.66],[13.45,0.35],[13.5,0.3],[13.6,0.25],[13.7,0.55],[13.8,0.3],[13.9,0.2],[14.0,0.12],[14.15,0.6],[14.25,0.55],
  [14.55,0.32],[14.65,0.2],[14.8,0.25],[14.95,0.22],[15.1,0.27],[15.3,0.26],[15.5,0.15],
  [23.0,0.15],[23.25,0.12],[23.5,0.2],[23.65,0.35],[23.8,0.3],[24.0,0.18],[24.25,0.14],[24.5,0.22],[24.75,0.12],[25.0,0.16],[25.25,0.1],[25.5,0.13],[25.75,0.18],[26.0,0.48],[26.25,0.14],[26.55,0.25],[26.75,0.12],[27.0,0.1],[27.25,0.15],[27.5,0.08],[27.75,0.12],[28.0,0.09],[28.25,0.07],[28.5,0.1],[28.75,0.06],[29.0,0.09],[29.25,0.07],[29.5,0.11],[29.7,0.28],[30.0,0.08],[30.25,0.1],[30.5,0.07],[30.75,0.09],[31.0,0.12],[31.25,0.08],[31.5,0.1],[31.75,0.07],[32.0,0.09],[32.25,0.11],[32.5,0.08],[32.75,0.1],[33.0,0.07],[33.25,0.09],[33.5,0.12],[33.75,0.08],[34.0,0.1],[34.25,0.07],[34.5,0.09],[34.75,0.06],[35.0,0.08],[35.25,0.1],[35.5,0.07],[35.75,0.09],[36.0,0.11],[36.25,0.08],[36.5,0.1],[36.75,0.07],[37.0,0.09],[37.25,0.06],[37.5,0.08],[37.75,0.1],[38.0,0.07],[38.25,0.09],[38.5,0.06],[38.75,0.08],[39.0,0.07],[39.25,0.09],[39.5,0.06],[39.75,0.08],[40.0,0.1],[40.25,0.07],[40.5,0.09],[40.75,0.11],[41.0,0.08],[41.25,0.1],[41.5,0.07],[41.75,0.09],[42.0,0.12],[42.25,0.08],[42.5,0.1],[42.75,0.13],[43.0,0.09],[43.25,0.11],[43.5,0.14],[43.75,0.1],[44.0,0.12],[44.25,0.15],[44.5,0.1],[44.75,0.13],[45.0,0.11],[45.25,0.14],[45.5,0.12],[45.75,0.16],[46.0,0.13],[46.25,0.15],[46.5,0.12],[46.75,0.17],[47.0,0.14],[47.25,0.16],
  [47.9,0.5],[48.0,0.45],[48.1,0.4],[48.2,0.35],[48.3,0.28],[48.4,0.2],[48.5,0.68],[48.6,0.65],[48.9,0.4],[49.05,0.6],[49.2,0.45],[49.3,0.3],[49.5,0.2],[49.7,0.15],[49.9,0.1],[51.5,0.3],[51.7,0.4],[51.8,0.25],[51.9,0.2],[52.1,0.15],[53.3,0.5]];

var caFrac = [[0.3,0.17],[0.33,0.15],[1.44,0.08],
  [7.3,0.1],[7.45,0.08],[7.6,0.05],[7.75,0.04],[7.9,0.06],[8.0,0.05],[8.1,0.07],[8.2,0.06],[8.3,0.05],[8.4,0.08],[8.5,0.06],[8.6,0.05],[8.7,0.42],[8.85,0.07],[9.0,0.04],[9.1,0.05],[9.25,0.06],[9.35,0.07],[9.45,0.06],[9.55,0.05],[9.65,0.06],[9.8,0.07],
  [10.2,0.14],[10.3,0.12],[10.4,0.08],[10.5,0.07],[10.6,0.05],[10.7,0.04],[10.8,0.06],[10.9,0.05],[11.0,0.03],[11.1,0.05],[11.2,0.08],[11.3,0.1],[11.4,0.12],[11.5,0.11],[11.6,0.09],[11.7,0.08],[11.8,0.1],[11.9,0.12],[12.0,0.13],[12.1,0.12],[12.2,0.1],[12.3,0.11],[12.4,0.12],[12.5,0.14],
  [13.0,0.1],[13.1,0.11],[13.2,0.09],[13.3,0.08],[13.4,0.06],[13.5,0.05],[13.6,0.04],[13.7,0.07],[13.8,0.05],[13.9,0.06],[14.0,0.12],[14.15,0.05],[14.3,0.04],[14.55,0.1],[14.65,0.12],[14.8,0.09],[14.95,0.11],[15.1,0.08],[15.3,0.1],[15.5,0.09],
  [23.0,0.08],[23.25,0.1],[23.5,0.07],[23.75,0.12],[24.0,0.09],[24.5,0.06],[25.0,0.07],[25.5,0.05],[26.0,0.08],[26.5,0.06],[27.0,0.05],[27.5,0.04],[28.0,0.03],[28.5,0.04],[29.0,0.03],[29.5,0.04],[30.0,0.03],[30.5,0.04],[31.0,0.05],[31.5,0.03],[32.0,0.04],[32.5,0.03],[33.0,0.04],[33.5,0.05],[34.0,0.03],[34.5,0.04],[35.0,0.03],[35.5,0.04],[36.0,0.05],[36.5,0.04],[37.0,0.03],[37.5,0.04],[38.0,0.03],[38.5,0.04],[39.0,0.05],[39.5,0.04],[40.0,0.06],[40.5,0.05],[41.0,0.06],[41.5,0.05],[42.0,0.07],[42.5,0.06],[43.0,0.07],[43.5,0.06],[44.0,0.08],[44.5,0.06],[45.0,0.07],[45.5,0.08],[46.0,0.07],[46.5,0.08],[47.0,0.09],
  [47.9,0.05],[48.1,0.1],[48.3,0.15],[48.5,0.08],[48.9,0.35],[49.05,0.45],[49.2,0.15],[49.4,0.1],[49.6,0.12],[51.6,0.1],[51.75,0.3],[51.9,0.2],[52.0,0.12],[53.3,0.05]];

var kFrac = [[0.3,0.01],[1.44,0.008],[7.3,0.01],[7.6,0.008],[7.9,0.01],[8.2,0.012],[8.5,0.01],[8.8,0.009],[9.1,0.011],[9.4,0.01],[9.7,0.012],[10.2,0.01],[10.5,0.012],[10.8,0.01],[11.1,0.009],[11.4,0.011],[11.7,0.013],[12.0,0.012],[12.3,0.01],[12.6,0.011],[13.0,0.012],[13.3,0.01],[13.6,0.009],[13.9,0.011],[14.2,0.01],[14.6,0.012],[14.9,0.01],[15.2,0.011],[15.5,0.009],
  [23.0,0.012],[23.5,0.014],[24.0,0.011],[24.5,0.013],[25.0,0.012],[25.5,0.01],[26.0,0.012],[26.5,0.011],[27.0,0.01],[27.5,0.009],[28.0,0.008],[28.5,0.009],[29.0,0.008],[29.5,0.009],[30.0,0.008],[30.5,0.009],[31.0,0.01],[31.5,0.008],[32.0,0.009],[32.5,0.008],[33.0,0.009],[33.5,0.01],[34.0,0.008],[34.5,0.009],[35.0,0.01],[35.5,0.011],[36.0,0.013],[36.5,0.014],[37.0,0.012],[37.5,0.01],[38.0,0.009],[38.5,0.008],[39.0,0.008],[39.5,0.009],[40.0,0.008],[40.5,0.009],[41.0,0.01],[41.5,0.009],[42.0,0.01],[42.5,0.009],[43.0,0.01],[43.5,0.011],[44.0,0.01],[44.5,0.011],[45.0,0.012],[45.5,0.01],[46.0,0.011],[46.5,0.012],[47.0,0.011],
  [47.9,0.01],[48.2,0.012],[48.5,0.01],[48.8,0.011],[49.1,0.009],[49.4,0.01],[49.7,0.012],[51.6,0.015],[51.8,0.03],[52.0,0.02],[53.3,0.01]];

// tick values for the axes
var atofmsTicks = [0, 100, 200, 300, 400, 500, 600];
var windTicks = [0, 2, 4, 6, 8, 10, 12];
var ssaTicks = [0, 2, 4, 6];
var opsTicks = [0, 1, 2, 3, 4, 5];
var caTicks = [0, 0.5, 1.0, 1.5, 2.0];
var coarseTicks = [0.05, 0.10, 0.15, 0.20];
var kTicks = [0, 0.05, 0.10, 0.15];
var fracTicks = [0, 0.1, 0.2, 0.3, 0.4, 0.5, 0.6, 0.7, 0.8, 0.9, 1.0];

var W = 1237, H = 921;
var X_MIN = -0.25, X_MAX = 56.2;
var AREA_LEFT = 93, AREA_RIGHT = 1161;
var AXIS_GREY = '#8c8c8c';

Chart.defaults.font.family = '"Liberation Sans", Arial, sans-serif';
Chart.defaults.color = '#222';

var periodEdges = periodSpans.slice(1).map(function(s) { return s[0]; });

var periodLines = {
  id: 'periodLines',
  beforeDatasetsDraw: function(chart) {
    var ctx = chart.ctx, a = chart.chartArea, x = chart.scales.x;
    ctx.save();
    ctx.strokeStyle = '#b3c3e3';
    ctx.lineWidth = 1;
    periodEdges.forEach(function(d) {
      var px = Math.round(x.getPixelForValue(d)) + 0.5;
      ctx.beginPath();
      ctx.moveTo(px, a.top);
      ctx.lineTo(px, a.bottom);
      ctx.stroke();
    });
    ctx.restore();
  }
};

var periodText = {
  id: 'periodText',
  afterDatasetsDraw: function(chart) {
    var ctx = chart.ctx;
    var meta = chart.getDatasetMeta(0);
    ctx.save();
    ctx.font = '14px "Liberation Sans", Arial, sans-serif';
    ctx.fillStyle = '#222';
    ctx.textAlign = 'center';
    ctx.textBaseline = 'middle';
    meta.data.forEach(function(bar, i) {
      ctx.fillText(periodNames[i], (bar.x + bar.base) / 2, bar.y + 1);
    });
    ctx.restore();
  }
};

// air mass strip and periods
var originSets = [
  ['France', franceSpans, '#1238c0'],
  ['Mediterranean', medSpans, '#ffa80f'],
  ['Spain', spainSpans, '#ee1111'],
  ['North Atlantic', atlanticSpans, '#22d4d8'],
  ['UK', ukSpans, '#0e6a66'],
  ['Italy', italySpans, '#4f9d16'],
  ['Eastern Europe', easternSpans, '#000000'],
  ['Central Europe', centralSpans, '#828282']
];

var legendBox = document.getElementById('originLegend');
originSets.forEach(function(o) {
  var it = document.createElement('span');
  it.className = 'it';
  var bx = document.createElement('span');
  bx.className = 'bx';
  bx.style.background = o[2];
  it.appendChild(bx);
  it.appendChild(document.createTextNode(o[0]));
  legendBox.appendChild(it);
});

// one horizontal band of floating bars filling its whole chart area
function band(id, top, bottom, datasets, extra) {
  return new Chart(document.getElementById(id), {
    type: 'bar',
    data: { labels: ['row'], datasets: datasets },
    options: {
      indexAxis: 'y', responsive: false, animation: false, devicePixelRatio: 1,
      layout: { padding: { left: AREA_LEFT, right: W - AREA_RIGHT, top: top, bottom: H - bottom } },
      plugins: { tooltip: { enabled: false }, legend: { display: false } },
      scales: {
        x: { type: 'linear', min: X_MIN, max: X_MAX, display: false, stacked: false },
        y: { type: 'category', display: false }
      }
    },
    plugins: extra
  });
}

band('periods', 30, 54, [{
  label: 'Periods',
  data: periodSpans.map(function(s) { return {x: s, y: 'row'}; }),
  backgroundColor: '#c9c9c9', borderColor: '#8f8f8f', borderWidth: 1, borderSkipped: false,
  grouped: false, barPercentage: 1, categoryPercentage: 1, clip: false
}], [periodText]);

band('strip', 56, 70, originSets.map(function(o) {
  return {
    label: o[0],
    data: o[1].map(function(s) { return {x: s, y: 'row'}; }),
    backgroundColor: o[2], borderWidth: 0,
    grouped: false, barPercentage: 1, categoryPercentage: 1
  };
}), []);

function yAxis(pos, min, max, tickVals, fmt, title, titleSize, titleLH, titlePad) {
  return {
    type: 'linear', position: pos, min: min, max: max,
    afterFit: function(s) { s.width = pos === 'left' ? AREA_LEFT : W - AREA_RIGHT; },
    afterBuildTicks: function(s) { s.ticks = tickVals.map(function(v) { return {value: v}; }); },
    grid: { drawOnChartArea: false, tickLength: 5, color: AXIS_GREY },
    border: { color: AXIS_GREY },
    ticks: { autoSkip: false, padding: 2, color: '#333', font: { size: 15 }, callback: fmt },
    title: {
      display: !!title, text: title, color: '#111',
      font: { size: titleSize, weight: 'bold', lineHeight: titleLH },
      padding: { top: titlePad, bottom: 0 }
    }
  };
}

var xTickVals = [];
for (var k = 0; k <= 168; k++) xTickVals.push(k / 3);

function xAxis(show) {
  return {
    type: 'linear', min: X_MIN, max: X_MAX, display: show, position: 'bottom',
    afterBuildTicks: function(s) { s.ticks = xTickVals.map(function(v) { return {value: v}; }); },
    afterFit: function(s) { if (show) s.height = 98; },
    grid: { drawOnChartArea: false, tickLength: 5, color: AXIS_GREY },
    border: { color: AXIS_GREY },
    ticks: {
      autoSkip: false, minRotation: 90, maxRotation: 90, padding: 3, color: '#333', font: { size: 15 },
      callback: function(v) {
        var r = Math.round(v);
        return Math.abs(v - r) < 1e-6 ? dateLabels[r] : '';
      }
    },
    title: { display: true, text: 'Date & Time (UTC)', color: '#111', font: { size: 13, weight: 'bold' }, padding: { top: 0, bottom: 4 } }
  };
}

function plain(v) { return String(v); }
function oneDec(v) { return v === 0 ? '0' : v.toFixed(1); }
function twoDec(v) { return v === 0 ? '0' : v.toFixed(2); }

function area(label, data, color, axis) {
  return { label: label, data: data, yAxisID: axis, backgroundColor: color, borderColor: color, borderWidth: 0.8, fill: 'origin', pointRadius: 0, spanGaps: false, tension: 0 };
}
function trace(label, data, color, axis, width) {
  return { label: label, data: data, yAxisID: axis, borderColor: color, borderWidth: width, fill: false, pointRadius: 0, spanGaps: false, tension: 0 };
}

function panel(id, top, bottom, datasets, scales, type) {
  var showX = bottom === null;
  return new Chart(document.getElementById(id), {
    type: type || 'line',
    data: { datasets: datasets },
    options: {
      responsive: false, animation: false, devicePixelRatio: 1,
      layout: { padding: { top: top, bottom: showX ? 0 : H - bottom, left: 0, right: scales.y2 ? 0 : W - AREA_RIGHT } },
      plugins: { legend: { display: false }, tooltip: { enabled: false } },
      scales: Object.assign({ x: xAxis(showX) }, scales)
    },
    plugins: [periodLines]
  });
}

// panel 1: ATOFMS sea salt and wind speed
panel('p1', 72, 222, [
  trace('Wind Speed', windSpeed, '#e8773c', 'y2', 1.2),
  area('Sea salt-fresh (ATOFMS)', freshCounts, '#1fe0e6', 'y'),
  area('Sea salt-aged (ATOFMS)', agedCounts, '#0e625e', 'y')
], {
  y: yAxis('left', 0, 620, atofmsTicks, plain, ['ATOFMS', 'Particle Numbers h\u207B\u00B9'], 14, 1.65, 10),
  y2: yAxis('right', 0, 13.3, windTicks, plain, 'Wind Speed (m/s)', 14, 1.2, 16)
});

// panel 2: PILS sea salt and fine OPS
panel('p2', 226, 366, [
  trace('0.579-2.156 \u00B5m (OPS)', opsFine, '#e8609c', 'y2', 1.2),
  area('Sea salt-fresh (ATOFMS)', freshMass, '#1fe0e6', 'y'),
  area('SSA (PILS)', ssaMass, '#0c2b24', 'y')
], {
  y: yAxis('left', 0, 6.73, ssaTicks, plain, ['Mass Concentration', '(\u00B5g/m\u00B3)'], 14, 1.65, 10),
  y2: yAxis('right', 0, 5.43, opsTicks, plain, 'OPS (#/cm\u00B3)', 14, 1.2, 16)
});

// panel 3: calcium and coarse OPS
panel('p3', 372, 526, [
  trace('2.156-8.032 \u00B5m (OPS)', opsCoarse, '#2c0d5c', 'y2', 1.2),
  area('Ca2+ (PILS)', caMass, '#a774e2', 'y')
], {
  y: yAxis('left', 0, 2.44, caTicks, oneDec, '', 14, 1.2, 0),
  y2: yAxis('right', 0, 0.215, coarseTicks, twoDec, 'OPS (#/cm\u00B3)', 14, 1.2, 16)
});

// panel 4: potassium and fine OPS
panel('p4', 531, 674, [
  trace('0.579-2.156 \u00B5m (OPS)', opsFine, '#e8609c', 'y2', 1.2),
  area('K+ (PILS)', kMass, '#4c9a14', 'y')
], {
  y: yAxis('left', 0, 0.186, kTicks, twoDec, '', 14, 1.2, 0),
  y2: yAxis('right', 0, 5.2, opsTicks, plain, 'OPS (#/cm\u00B3)', 14, 1.2, 16)
});

// panel 5: PM10 fractions
function dots(label, data, color) {
  return { label: label, data: data, yAxisID: 'y', backgroundColor: color, borderColor: color, pointRadius: 1.8, pointBorderWidth: 0, showLine: false };
}
panel('p5', 677, null, [
  dots('K+/PM10', kFrac, '#66a82a'),
  dots('Ca2+/PM10', caFrac, '#5a24c4'),
  dots('SSA/PM10', ssaFrac, '#3fcfcf')
], {
  y: yAxis('left', 0, 1.06, fracTicks, function(v, i) { return i % 2 ? '' : oneDec(v); }, 'PM\u2081\u2080 Fraction', 14, 1.2, 36)
}, 'scatter');
</script>
</body>
</html>
